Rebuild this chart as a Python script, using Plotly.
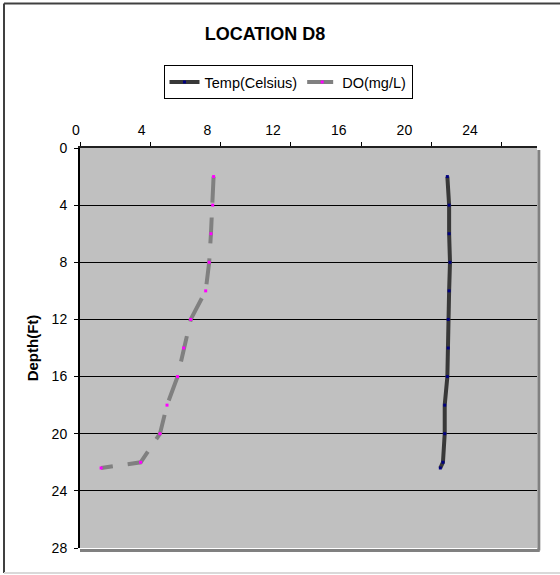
import plotly.graph_objects as go

# Depth profile at location D8
depth_ft = [2, 4, 6, 8, 10, 12, 14, 16, 18, 20, 22, 22.4]
temp_c = [20.9, 21.0, 21.0, 21.05, 21.0, 20.95, 20.95, 20.9, 20.75, 20.75, 20.65, 20.5]
do_mgl = [7.6, 7.55, 7.45, 7.35, 7.15, 6.3, 5.9, 5.55, 4.95, 4.55, 3.45, 1.2]

x_ticks = [0, 4, 8, 12, 16, 20, 24]
y_ticks = [0, 4, 8, 12, 16, 20, 24, 28]

W, H = 560, 575
L, R, T, B = 80, 23, 148, 27
PW, PH = W - L - R, H - T - B


def px(x):
    return (x - L) / PW


def py(y):
    return (H - B - y) / PH


FONT = "Liberation Sans, Arial, sans-serif"

fig = go.Figure()
fig.add_trace(go.Scatter(
    x=temp_c, y=depth_ft, name="Temp(Celsius)", mode="lines+markers",
    line=dict(color="#383838", width=4),
    marker=dict(symbol="square", size=3, color="#000080"),
))
fig.add_trace(go.Scatter(
    x=do_mgl, y=depth_ft, name="DO(mg/L)", mode="lines+markers",
    line=dict(color="#808080", width=4, dash="26px,15px"),
    marker=dict(symbol="square", size=3, color="#FF00FF"),
))
# empty trace that keeps the label axis alive
fig.add_trace(go.Scatter(
    x=[None], y=[None], xaxis="x2", yaxis="y", mode="lines",
    showlegend=False, hoverinfo="skip",
))

shapes = [
    # plot-area shadow on the right and bottom
    dict(type="line", xref="paper", yref="paper", x0=1.004, x1=1.004, y0=-0.006, y1=0.995,
         line=dict(color="#808080", width=3)),
    dict(type="line", xref="paper", yref="paper", x0=0, x1=1.006, y0=-0.006, y1=-0.006,
         line=dict(color="#808080", width=3)),
    # outer chart frame
    dict(type="line", xref="paper", yref="paper", x0=px(4), x1=px(560), y0=py(3.5), y1=py(3.5),
         line=dict(color="#404040", width=2)),
    dict(type="line", xref="paper", yref="paper", x0=px(4), x1=px(4), y0=py(3.5), y1=py(573),
         line=dict(color="#404040", width=2)),
    dict(type="line", xref="paper", yref="paper", x0=px(4), x1=px(560), y0=py(573), y1=py(573),
         line=dict(color="#d9d9d9", width=2)),
]

fig.update_layout(
    width=W, height=H,
    margin=dict(l=L, r=R, t=T, b=B),
    paper_bgcolor="white",
    plot_bgcolor="#C0C0C0",
    font=dict(family=FONT, size=14, color="black"),
    title=dict(text="<b>LOCATION D8</b>", x=px(265), xref="paper", xanchor="center",
               y=1 - 34 / H, yanchor="middle", font=dict(size=18, family=FONT)),
    showlegend=True,
    legend=dict(
        orientation="h", x=px(288), xanchor="center", y=py(65), yanchor="top",
        bordercolor="black", borderwidth=1, bgcolor="white",
        font=dict(size=14.5, family=FONT), itemwidth=30, tracegroupgap=0,
    ),
    # data axis: tick marks along the top edge
    xaxis=dict(
        side="top", range=[0, 26], tickvals=x_ticks, ticks="outside", ticklen=4,
        tickcolor="black", showticklabels=False, showline=True, linecolor="#202020",
        linewidth=2, showgrid=False, zeroline=False,
    ),
    # label row above the plot, on its own spacing
    xaxis2=dict(
        overlaying="x", side="top", anchor="y", range=[0, PW / 16.42], tickvals=x_ticks,
        ticks="", showline=False, showgrid=False, zeroline=False,
        ticklabelshift=-4, ticklabelstandoff=9, tickfont=dict(size=14),
    ),
    yaxis=dict(
        range=[28, 0], tickvals=y_ticks, ticks="outside", ticklen=4, tickcolor="black",
        showline=True, linecolor="black", linewidth=2, showgrid=True,
        gridcolor="black", gridwidth=1, zeroline=False, tickfont=dict(size=14),
        ticklabelstandoff=4,
        title=dict(text="<b>Depth(Ft)</b>", font=dict(size=15), standoff=9),
    ),
    shapes=shapes,
)

fig.write_html("out.html")
